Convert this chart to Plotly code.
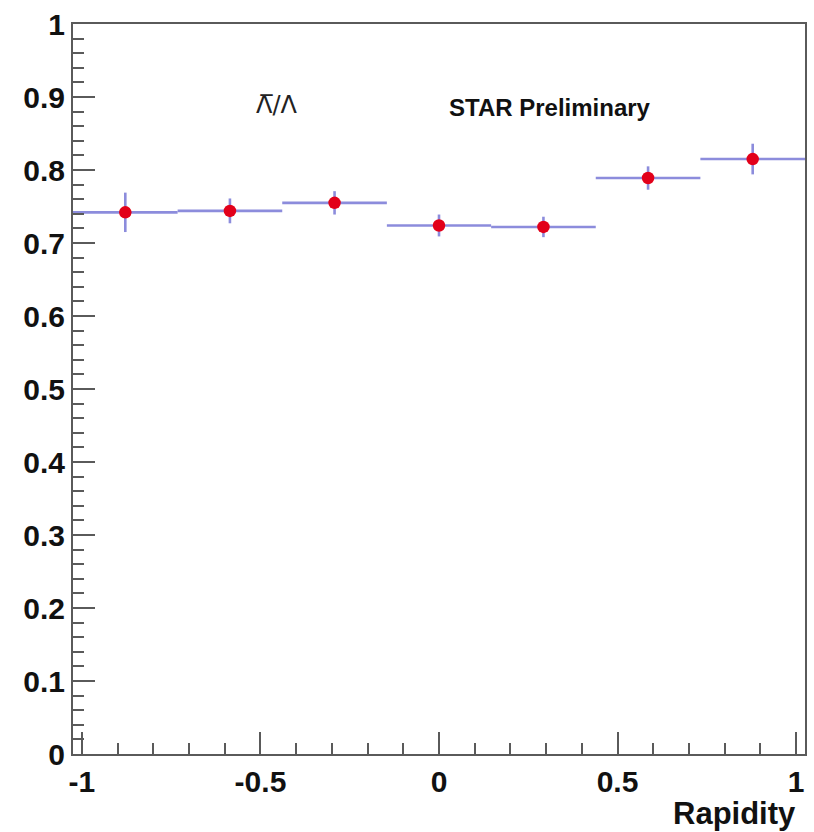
import numpy as np
import plotly.graph_objects as go

# Anti-lambda / lambda ratio versus rapidity (7 bins)
rapidity_edges = [-1.025, -0.732, -0.439, -0.146, 0.146, 0.439, 0.732, 1.025]
ratio = [0.742, 0.744, 0.755, 0.724, 0.722, 0.789, 0.815]
ratio_err = [0.027, 0.017, 0.016, 0.015, 0.014, 0.016, 0.021]

x_tick_vals = [-1, -0.5, 0, 0.5, 1]
x_tick_text = ["-1", "-0.5", "0", "0.5", "1"]
y_tick_vals = [0, 0.1, 0.2, 0.3, 0.4, 0.5, 0.6, 0.7, 0.8, 0.9, 1.0]
y_tick_text = ["0", "0.1", "0.2", "0.3", "0.4", "0.5", "0.6", "0.7", "0.8", "0.9", "1"]

edges = np.array(rapidity_edges)
centers = 0.5 * (edges[:-1] + edges[1:])
half_widths = 0.5 * (edges[1:] - edges[:-1])

BAR_COLOR = "#8c8cdc"
POINT_COLOR = "#e2001a"
AXIS_COLOR = "#5a5a5a"
FONT = "Liberation Sans, Arial, Helvetica, sans-serif"

fig = go.Figure()
fig.add_trace(go.Scatter(
    x=centers,
    y=ratio,
    mode="markers",
    marker=dict(color=POINT_COLOR, size=12.5, symbol="circle"),
    error_x=dict(type="data", array=half_widths, color=BAR_COLOR, thickness=2.6, width=0),
    error_y=dict(type="data", array=ratio_err, color=BAR_COLOR, thickness=2.6, width=0),
    showlegend=False,
))

axis_font = dict(family=FONT, size=30, color="#111111", weight="bold")

fig.update_xaxes(
    range=[rapidity_edges[0], rapidity_edges[-1]],
    tickmode="array", tickvals=x_tick_vals, ticktext=x_tick_text,
    ticks="inside", ticklen=22, tickwidth=1.5, tickcolor=AXIS_COLOR,
    minor=dict(tickmode="array", tickvals=list(np.round(np.arange(-1.0, 1.001, 0.1), 2)),
               ticks="inside", ticklen=11, tickwidth=1.5, tickcolor=AXIS_COLOR),
    showline=True, linecolor=AXIS_COLOR, linewidth=2, mirror=True,
    showgrid=False, zeroline=False,
    tickfont=axis_font,
)
fig.update_yaxes(
    range=[0, 1],
    tickmode="array", tickvals=y_tick_vals, ticktext=y_tick_text,
    ticks="inside", ticklen=22, tickwidth=1.5, tickcolor=AXIS_COLOR,
    minor=dict(tickmode="array", tickvals=list(np.round(np.arange(0.0, 1.001, 0.02), 2)),
               ticks="inside", ticklen=11, tickwidth=1.5, tickcolor=AXIS_COLOR),
    showline=True, linecolor=AXIS_COLOR, linewidth=2, mirror=True,
    showgrid=False, zeroline=False,
    tickfont=axis_font,
)

fig.add_annotation(
    text="Rapidity", xref="paper", yref="paper", x=0.99, y=-0.082,
    xanchor="right", yanchor="middle", showarrow=False,
    font=dict(family=FONT, size=31, color="#111111", weight="bold"),
)
fig.add_annotation(
    text="\u039b\u0305/\u039b", xref="paper", yref="paper", x=0.279, y=0.889,
    xanchor="center", yanchor="middle", showarrow=False,
    font=dict(family="DejaVu Sans, Liberation Sans, sans-serif", size=24, color="#222222"),
)
fig.add_annotation(
    text="STAR Preliminary", xref="paper", yref="paper", x=0.651, y=0.886,
    xanchor="center", yanchor="middle", showarrow=False,
    font=dict(family=FONT, size=24, color="#111111", weight="bold"),
)

fig.update_layout(
    width=814, height=832,
    margin=dict(l=73, r=7, t=20, b=78),
    paper_bgcolor="white", plot_bgcolor="white",
)

fig.write_html("out.html")
